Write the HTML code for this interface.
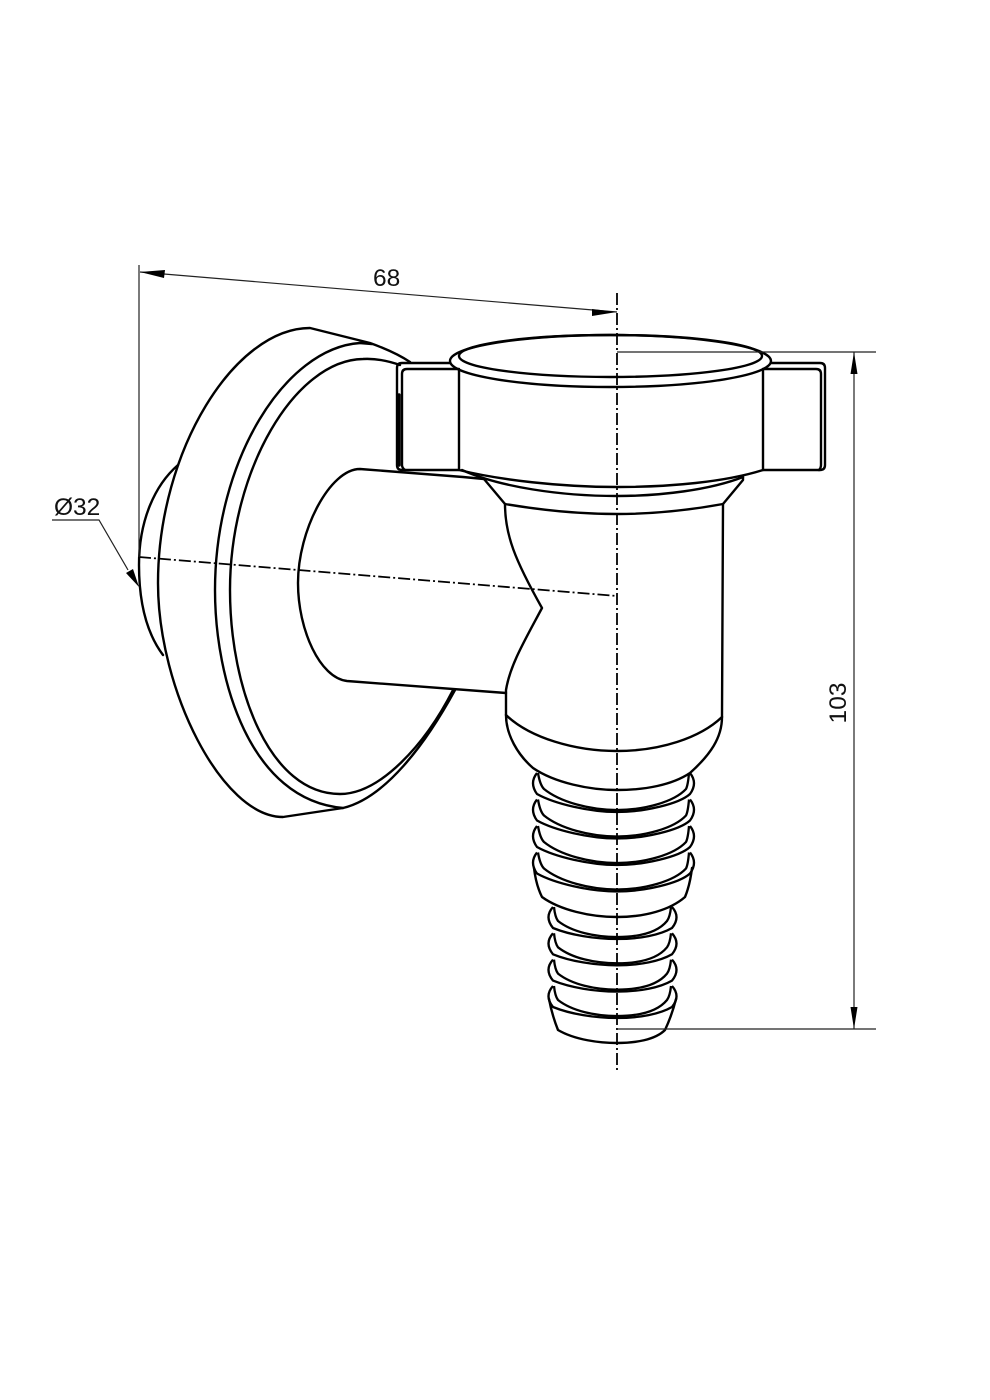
<!DOCTYPE html>
<html><head><meta charset="utf-8"><style>html,body{margin:0;padding:0;background:#fff}svg{display:block}</style></head>
<body>
<svg width="990" height="1400" viewBox="0 0 990 1400" xmlns="http://www.w3.org/2000/svg">
<rect width="990" height="1400" fill="#fff"/>
<defs>
<g id="ru" fill="none" stroke="#000" stroke-width="2.300">
<path d="M537 0Q529 10 537 21C555 31 590 39 617 39C644 39 679 31 690 21Q698 10 690 0"/>
<path d="M538 0Q540 12 544 16C560 29 590 37 617 37C644 37 674 29 686 16Q688 12 689 0"/>
</g>
<g id="rl" fill="none" stroke="#000" stroke-width="2.300">
<path d="M553 0Q544 10 553 21C570 28 595 32 617 32C640 32 660 28 672 21Q681 10 672 0"/>
<path d="M554 0Q555 10 558 14C572 25 595 30 617 30C640 30 658 25 667 14Q670 10 671 0"/>
</g>
</defs>

<g fill="none" stroke="#000" stroke-width="2.400" stroke-linecap="round" stroke-linejoin="round">
<!-- dome -->
<path d="M178 465C155 485 139 520 139 565C139 605 148 635 163 655"/>
<!-- plate outer -->
<path d="M410 362Q395 352 370 343L310 328C235 328 158 450 158 583C158 690 222 817 283 817L343 808C385 798 425 745 455 690"/>
<!-- ring 2 -->
<path d="M360 343C285 348 215 460 215 590C215 680 250 800 343 808"/>
<path d="M360 343L372 344"/>
<!-- ring 3 -->
<path d="M400 365Q380 358 363 359C295 360 230 470 230 590C230 690 270 794 340 794C380 794 425 745 453 690"/>
<!-- pipe -->
<path d="M484 479L463 477L360 469C330 469 298 530 298 583C298 630 320 678 347 681L506 693"/>
<!-- body -->
<path d="M505 504C505 535 515 560 542 608C525 640 510 665 506 690L506 715C506 735 518 755 533 768C555 783 590 790 617 790C645 790 672 785 690 773C710 755 722 738 722 717L723 504"/>
<path d="M506 715C530 738 575 751 617 751C660 751 700 738 722 717"/>
<!-- flare -->
<path d="M484 479L505 504C540 510 580 514 617 514C655 514 690 510 723 504L743 480L743 477"/>
<path d="M462 470C500 487 560 496 617 496C660 496 710 490 743 477"/>
<!-- nut -->
<path d="M459 370L459 470C500 480 560 487 617 487C670 487 725 482 763 470L763 370"/>
<ellipse cx="610.500" cy="361" rx="160.500" ry="26"/>
<ellipse cx="610.500" cy="356" rx="151.500" ry="21"/>
<!-- wings -->
<path d="M450 363L402 363Q397 363 397 368L397 465Q397 470 402 470L459 470"/>
<path d="M459 369L407 369Q402 369 402 374L402 465Q402 468 405 470"/>
<path d="M399 395L399 465" stroke-width="3.500"/>
<path d="M771 363L820 363Q825 363 825 368L825 465Q825 470 820 470L763 470"/>
<path d="M763 369L816 369Q821 369 821 374L821 465Q821 468 819 470"/>
<!-- cones -->
<path d="M534 868Q536 885 542 897C560 910 590 917 617 917C645 917 670 910 685 897Q690 885 692 868"/>
<path d="M549 999Q552 1015 558 1030C575 1040 600 1043 617 1043C635 1043 655 1040 665 1030Q672 1015 676 999"/>
</g>
<use href="#ru" transform="translate(0 773)"/>
<use href="#ru" transform="translate(0 799.500)"/>
<use href="#ru" transform="translate(0 826)"/>
<use href="#ru" transform="translate(0 852.500)"/>
<use href="#rl" transform="translate(0 907)"/>
<use href="#rl" transform="translate(0 933.300)"/>
<use href="#rl" transform="translate(0 959.600)"/>
<use href="#rl" transform="translate(0 986)"/>

<!-- centre lines -->
<g fill="none" stroke="#000" stroke-width="1.800" stroke-dasharray="12 3 2 3">
<path d="M617 293L617 1072"/>
<path d="M139 557L617 596"/>
</g>

<!-- dimensions -->
<g fill="none" stroke="#222" stroke-width="1.200">
<path d="M139 265L139 557"/>
<path d="M140 272L617 312"/>
<path d="M617 352L876 352"/>
<path d="M617 1029L876 1029"/>
<path d="M854 352L854 1029"/>
<path d="M52 520L99 520L128 570"/>
</g>
<g fill="#000">
<path d="M140 272L165 270L164 278Z"/>
<path d="M617 312L592 309L592 316Z"/>
<path d="M854 352L850.500 374L857.500 374Z"/>
<path d="M854 1029L850.500 1007L857.500 1007Z"/>
<path d="M139 587L126 573L133 569Z"/>
</g>
<g font-family="'Liberation Sans',sans-serif" font-size="24.500" fill="#111">
<text x="373" y="286">68</text>
<text x="54" y="515">Ø32</text>
<text transform="translate(846 703) rotate(-90)" text-anchor="middle">103</text>
</g>
</svg>
</body></html>
